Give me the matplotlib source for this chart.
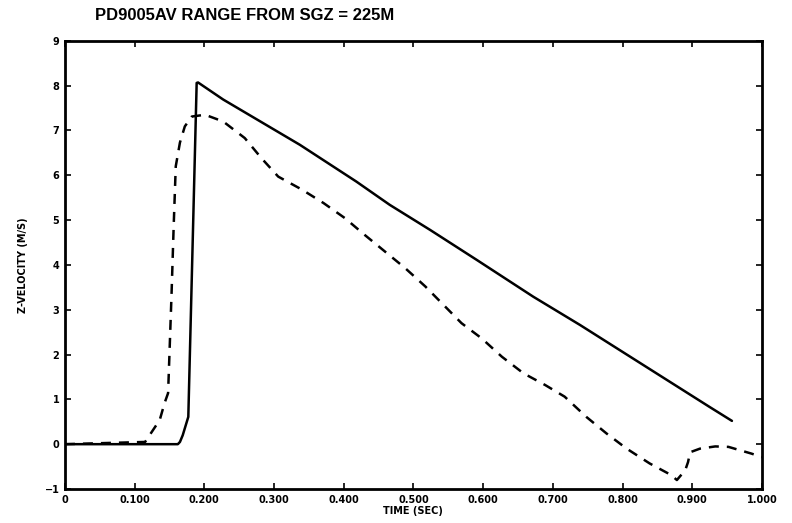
import matplotlib
matplotlib.use("Agg")
import matplotlib.pyplot as plt

# Solid trace
t_solid = [0.0, 0.162, 0.165, 0.169, 0.177, 0.189, 0.191, 0.227, 0.337, 0.418, 0.466,
           0.524, 0.591, 0.672, 0.739, 0.925, 0.957]
v_solid = [0.0, 0.0, 0.05, 0.2, 0.61, 8.06, 8.07, 7.69, 6.68, 5.86, 5.34,
           4.78, 4.11, 3.29, 2.66, 0.83, 0.52]

# Dashed trace
t_dash = [0.0, 0.115, 0.136, 0.143, 0.148, 0.153, 0.156, 0.159, 0.165, 0.172, 0.182,
          0.201, 0.227, 0.258, 0.282, 0.306, 0.340, 0.371, 0.402, 0.430, 0.459,
          0.488, 0.517, 0.543, 0.569, 0.598, 0.627, 0.658, 0.689, 0.717, 0.748,
          0.777, 0.806, 0.839, 0.870, 0.878, 0.890, 0.894, 0.897, 0.911, 0.933,
          0.952, 0.985, 1.0]
v_dash = [0.0, 0.05, 0.54, 0.92, 1.14, 3.37, 4.86, 6.2, 6.73, 7.09, 7.31,
          7.35, 7.20, 6.83, 6.38, 5.97, 5.68, 5.38, 5.04, 4.67, 4.30,
          3.93, 3.52, 3.11, 2.70, 2.36, 1.95, 1.58, 1.32, 1.06, 0.61,
          0.24, -0.10, -0.43, -0.69, -0.80, -0.58, -0.40, -0.18, -0.10, -0.05,
          -0.06, -0.21, -0.29]

x_ticks = [0, 0.1, 0.2, 0.3, 0.4, 0.5, 0.6, 0.7, 0.8, 0.9, 1.0]
x_ticklabels = ["0", "0.100", "0.200", "0.300", "0.400", "0.500", "0.600",
                "0.700", "0.800", "0.900", "1.000"]
y_ticks = [-1, 0, 1, 2, 3, 4, 5, 6, 7, 8, 9]
y_ticklabels = ["\u22121", "0", "1", "2", "3", "4", "5", "6", "7", "8", "9"]

fig = plt.figure(figsize=(7.92, 5.23), dpi=100)
ax = fig.add_axes([0.082, 0.065, 0.880, 0.857])

ax.plot(t_solid, v_solid, color="black", linewidth=1.8, solid_capstyle="round")
ax.plot(t_dash, v_dash, color="black", linewidth=1.8, linestyle=(0, (4, 3.2)))

ax.set_xlim(0, 1.0)
ax.set_ylim(-1, 9)
ax.set_xticks(x_ticks)
ax.set_xticklabels(x_ticklabels, fontsize=7, fontweight="bold")
ax.set_yticks(y_ticks)
ax.set_yticklabels(y_ticklabels, fontsize=7, fontweight="bold")
ax.tick_params(direction="in", length=4, width=1.2, top=True, right=True,
               pad=4)
for s in ax.spines.values():
    s.set_linewidth(2.0)

ax.set_xlabel("TIME (SEC)", fontsize=7, fontweight="bold", labelpad=1)
ax.set_ylabel("Z-VELOCITY (M/S)", fontsize=7, fontweight="bold", labelpad=12)
fig.text(0.12, 0.970, "PD9005AV RANGE FROM SGZ = 225M", fontsize=12,
         fontweight="bold", ha="left", va="center",
         family=["Liberation Sans", "DejaVu Sans"])

fig.savefig("out.png", dpi=100)
